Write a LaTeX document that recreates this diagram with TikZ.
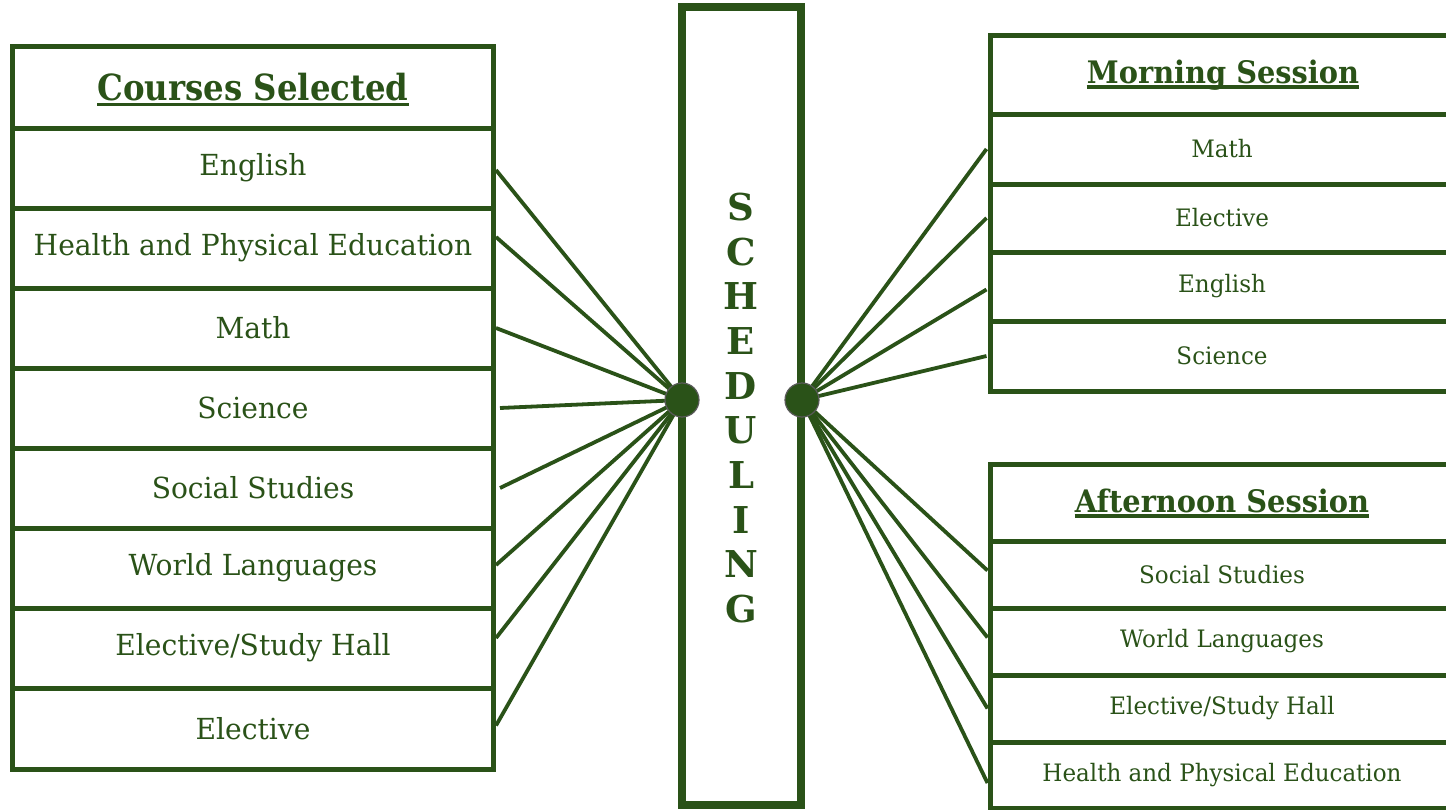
\documentclass[tikz,border=0pt]{standalone}
\usepackage{fontspec}
\setmainfont{DejaVu Serif}
\newfontfamily\fTL[FakeStretch=0.9]{DejaVu Serif}
\newfontfamily\fTR[FakeStretch=0.93]{DejaVu Serif}
\newfontfamily\fRL[FakeStretch=0.97]{DejaVu Serif}
\newfontfamily\fRR[FakeStretch=0.96]{DejaVu Serif}
\definecolor{dg}{RGB}{42,82,24}
\definecolor{dotline}{RGB}{90,90,90}
\tikzset{
  cell/.style={draw=dg, line width=5pt, inner sep=0pt, text=dg},
  lrow/.style={cell, minimum width=481pt, minimum height=80pt, font=\fRL\fontsize{29}{35}\selectfont},
  rrow/.style={cell, minimum width=464pt, minimum height=68pt, font=\fRR\fontsize{24}{29}\selectfont},
  ttl/.style={inner sep=0pt, anchor=base, text=dg},
  uline/.style={draw=dg, line width=3.5pt},
  conn/.style={draw=dg, line width=3.8pt},
  hub/.style={circle, fill=dg, draw=dotline, line width=1.2pt, minimum size=34pt, inner sep=0pt},
}
\begin{document}
\begin{tikzpicture}[x=1pt,y=-1pt]
\useasboundingbox (0,0) rectangle (1446,809);
\clip (0,0) rectangle (1446,809);

% ---- left box
\node[cell, minimum width=481pt, minimum height=81.5pt] (lt) at (253,87.25) {};
\node[ttl, font=\fTL\fontsize{36}{44}\selectfont\bfseries] (ltt) at (253,100) {Courses Selected};
\draw[uline] ([yshift=-4.5pt]ltt.base west) -- ([yshift=-4.5pt]ltt.base east);
\node[lrow] (l1) at (253,168) {English};
\node[lrow] (l2) at (253,248) {Health and Physical Education};
\node[lrow] (l3) at (253,328) {Math};
\node[lrow] (l4) at (253,408) {Science};
\node[lrow] (l5) at (253,488) {Social Studies};
\node[lrow] (l6) at (253,568) {World Languages};
\node[lrow] (l7) at (253,648) {Elective/Study Hall};
\node[lrow, minimum height=81pt] (l8) at (253,728.5) {Elective};

% ---- scheduling column
\node[draw=dg, line width=8pt, minimum width=119pt, minimum height=798pt, inner sep=0pt] (sched) at (741.75,406) {};
\node[text=dg, align=center, inner sep=0pt, font=\fontsize{37}{44.7}\selectfont\bfseries] (schedtxt) at (741,408)
  {S\\C\\H\\E\\D\\U\\L\\I\\N\\G};

% ---- morning session
\node[cell, minimum width=464pt, minimum height=79pt] (mt) at (1222,74.5) {};
\node[ttl, font=\fTR\fontsize{31}{37}\selectfont\bfseries] (mtt) at (1223,83) {Morning Session};
\draw[uline] ([yshift=-4pt]mtt.base west) -- ([yshift=-4pt]mtt.base east);
\node[rrow, minimum height=70pt] (m1) at (1222,149) {Math};
\node[rrow] (m2) at (1222,218) {Elective};
\node[rrow, minimum height=69pt] (m3) at (1222,286.5) {English};
\node[rrow, minimum height=70pt] (m4) at (1222,356) {Science};

% ---- afternoon session
\node[cell, minimum width=464pt, minimum height=77pt] (at) at (1222,502.5) {};
\node[ttl, font=\fTR\fontsize{31}{37}\selectfont\bfseries] (att) at (1222,512) {Afternoon Session};
\draw[uline] ([yshift=-4pt]att.base west) -- ([yshift=-4pt]att.base east);
\node[rrow, minimum height=67pt] (a1) at (1222,574.5) {Social Studies};
\node[rrow, minimum height=67pt] (a2) at (1222,641.5) {World Languages};
\node[rrow, minimum height=67pt] (a3) at (1222,708.5) {Elective/Study Hall};
\node[rrow, minimum height=66pt] (a4) at (1222,775) {Health and Physical Education};

% ---- hubs and connectors
\coordinate (hl) at (682,400);
\coordinate (hr) at (802,400);
\draw[conn] ([yshift=-2pt]l1.east) -- (hl);
\draw[conn] ([yshift=11pt]l2.east) -- (hl);
\draw[conn] (l3.east) -- (hl);
\draw[conn] ([xshift=4pt]l4.east) -- (hl);
\draw[conn] ([xshift=4pt]l5.east) -- (hl);
\draw[conn] ([yshift=3pt]l6.east) -- (hl);
\draw[conn] ([yshift=10pt]l7.east) -- (hl);
\draw[conn] ([yshift=3pt]l8.east) -- (hl);
\draw[conn] ([xshift=-1pt]m1.west) -- (hr);
\draw[conn] ([xshift=-1pt]m2.west) -- (hr);
\draw[conn] ([xshift=-1pt,yshift=-3pt]m3.west) -- (hr);
\draw[conn] ([xshift=-1pt]m4.west) -- (hr);
\draw[conn] ([yshift=4pt]a1.west) -- (hr);
\draw[conn] ([yshift=4pt]a2.west) -- (hr);
\draw[conn] (a3.west) -- (hr);
\draw[conn] ([yshift=-8pt]a4.west) -- (hr);
\node[hub] (hubl) at (hl) {};
\node[hub] (hubr) at (hr) {};
\end{tikzpicture}
\end{document}
